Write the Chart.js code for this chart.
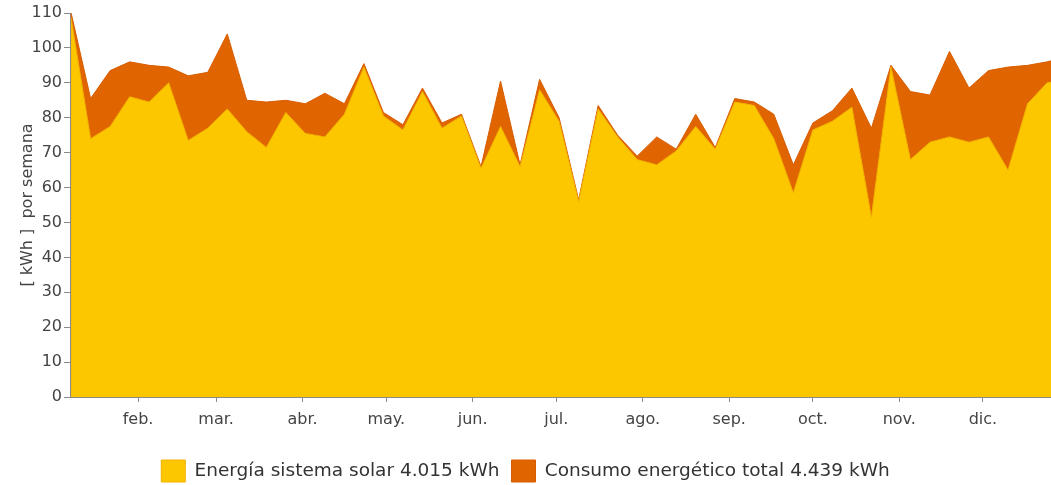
<!DOCTYPE html>
<html>
<head>
<meta charset="utf-8">
<title>Energía semanal</title>
<script src="https://cdn.jsdelivr.net/npm/chart.js@4.4.1/dist/chart.umd.min.js"></script>
<style>
    html, body { margin: 0; padding: 0; background: #fff; }
    #wrap { width: 1051px; height: 485px; }
</style>
</head>
<body>
<div id="wrap"><canvas id="energyChart" width="1051" height="485"></canvas></div>
<script>
// Datos semanales (día del año de cada semana)
const weekDays = [7, 14, 21, 28, 35, 42, 49, 56, 63, 70, 77, 84, 91, 98, 105, 112, 119, 126, 133, 140,
    147, 154, 161, 168, 175, 182, 189, 196, 203, 210, 217, 224, 231, 238, 245, 252, 259, 266, 273, 280,
    287, 294, 301, 308, 315, 322, 329, 336, 343, 350, 357, 364];

// Energía sistema solar (kWh por semana)
const solarValues = [108.5, 74, 77.5, 86, 84.5, 90, 73.5, 77, 82.5, 76, 71.5, 81.5, 75.5, 74.5, 81, 94.5,
    80.5, 76.5, 87.5, 77, 80.5, 65.5, 77.5, 66, 88, 79, 56, 82.5, 74.5, 68, 66.5, 70.5, 77.5, 71, 84.5,
    83.5, 74, 58.5, 76.5, 79, 83, 51.5, 94.5, 68, 73, 74.5, 73, 74.5, 65, 84, 90, 91];

// Consumo energético total (kWh por semana)
const totalValues = [110, 85.5, 93.5, 96, 95, 94.5, 92, 93, 104, 85, 84.5, 85, 84, 87, 84, 95.5,
    81.5, 78, 88.5, 78.5, 81, 66, 90.5, 66.5, 91, 80, 56.5, 83.5, 75, 69, 74.5, 71, 81, 71.5, 85.5,
    84.5, 81, 66.5, 78.5, 82, 88.5, 77, 95, 87.5, 86.5, 99, 88.5, 93.5, 94.5, 95, 96, 97.5];

// Ejes
const monthTicks = [31, 59, 90, 120, 151, 181, 212, 243, 273, 304, 334];
const monthLabels = ['feb.', 'mar.', 'abr.', 'may.', 'jun.', 'jul.', 'ago.', 'sep.', 'oct.', 'nov.', 'dic.'];
const yTicks = [0, 10, 20, 30, 40, 50, 60, 70, 80, 90, 100, 110];

const seriesLabels = ['Energía sistema solar 4.015 kWh', 'Consumo energético total 4.439 kWh'];

const axisColor = '#8a8a8a';
const textColor = '#444';
const fontFamily = '"DejaVu Sans", Verdana, sans-serif';

function toPoints(values) {
    return weekDays.map((d, i) => ({ x: d, y: values[i] }));
}

const ctx = document.getElementById('energyChart').getContext('2d');
const chart = new Chart(ctx, {
    type: 'line',
    data: {
        datasets: [
            {
                label: seriesLabels[0],
                data: toPoints(solarValues),
                backgroundColor: '#fdc700',
                borderColor: '#f2b200',
                borderWidth: 1,
                fill: 'origin',
                pointRadius: 0,
                tension: 0
            },
            {
                label: seriesLabels[1],
                data: toPoints(totalValues),
                backgroundColor: '#e06400',
                borderColor: '#d85d00',
                borderWidth: 1,
                fill: 'origin',
                pointRadius: 0,
                tension: 0
            }
        ]
    },
    options: {
        responsive: false,
        animation: false,
        layout: {
            padding: { top: 13, right: 0, left: 0, bottom: -7 }
        },
        plugins: {
            tooltip: { enabled: false },
            legend: {
                display: true,
                position: 'bottom',
                labels: {
                    boxWidth: 24,
                    boxHeight: 22,
                    padding: 12,
                    color: '#333',
                    font: { family: fontFamily, size: 18.5 }
                }
            }
        },
        scales: {
            x: {
                type: 'linear',
                min: 6.6,
                max: 358.4,
                afterBuildTicks: (scale) => {
                    scale.ticks = monthTicks.map(v => ({ value: v }));
                },
                afterFit: (scale) => { scale.height = 51; },
                border: { color: axisColor, width: 1 },
                grid: { drawOnChartArea: false, color: axisColor, tickLength: 5 },
                ticks: {
                    autoSkip: false,
                    maxRotation: 0,
                    padding: 8,
                    color: textColor,
                    font: { family: fontFamily, size: 16 },
                    callback: (value) => {
                        const i = monthTicks.indexOf(value);
                        return i >= 0 ? monthLabels[i] : '';
                    }
                }
            },
            y: {
                min: 0,
                max: 110,
                afterBuildTicks: (scale) => {
                    scale.ticks = yTicks.map(v => ({ value: v }));
                },
                afterFit: (scale) => { scale.width = 70; },
                border: { color: axisColor, width: 1 },
                grid: { drawOnChartArea: false, color: axisColor, tickLength: 6 },
                ticks: {
                    padding: 2,
                    color: textColor,
                    font: { family: fontFamily, size: 16 }
                },
                title: {
                    display: true,
                    text: '[ kWh ]  por semana',
                    color: textColor,
                    padding: { top: 18, bottom: 0 },
                    font: { family: fontFamily, size: 16 }
                }
            }
        }
    }
});
</script>
</body>
</html>
